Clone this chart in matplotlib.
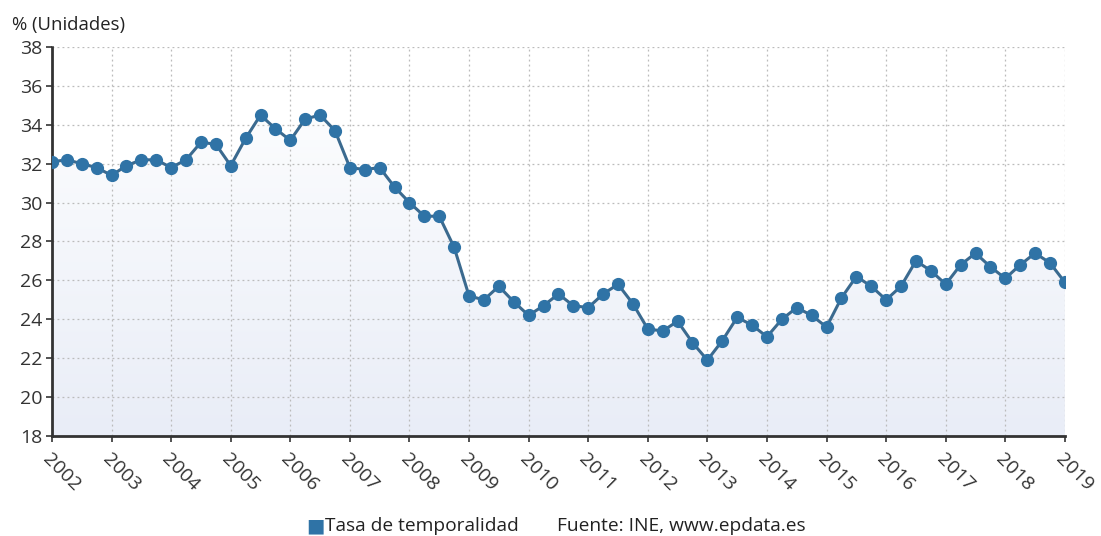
import numpy as np
import matplotlib
matplotlib.use("Agg")
import matplotlib.pyplot as plt
from matplotlib.patches import Polygon
from matplotlib.colors import LinearSegmentedColormap

plt.rcParams['font.family'] = ['Open Sans', 'DejaVu Sans']

years = list(range(2002, 2020))
year_labels = [str(y) for y in years]
series_name = "Tasa de temporalidad"
source_text = "Fuente: INE, www.epdata.es"
unit_label = "% (Unidades)"

# quarterly values 2002T1 .. 2019T1
values = [
    32.1, 32.2, 32.0, 31.8,
    31.4, 31.9, 32.2, 32.2,
    31.8, 32.2, 33.1, 33.0,
    31.9, 33.3, 34.5, 33.8,
    33.2, 34.3, 34.5, 33.7,
    31.8, 31.7, 31.8, 30.8,
    30.0, 29.3, 29.3, 27.7,
    25.2, 25.0, 25.7, 24.9,
    24.2, 24.7, 25.3, 24.7,
    24.6, 25.3, 25.8, 24.8,
    23.5, 23.4, 23.9, 22.8,
    21.9, 22.9, 24.1, 23.7,
    23.1, 24.0, 24.6, 24.2,
    23.6, 25.1, 26.2, 25.7,
    25.0, 25.7, 27.0, 26.5,
    25.8, 26.8, 27.4, 26.7,
    26.1, 26.8, 27.4, 26.9,
    25.9,
]
x = np.array([2002 + i / 4 for i in range(len(values))])
y = np.array(values)

fig = plt.figure(figsize=(11.01, 5.36), dpi=100)
ax = fig.add_axes([0.0472, 0.1866, 0.9200, 0.7257])

ymin, ymax = 18, 38
ax.set_xlim(2002, 2019)
ax.set_ylim(ymin, ymax)

# gradient fill under the line
grad = np.linspace(0, 1, 256).reshape(-1, 1)
cmap = LinearSegmentedColormap.from_list("g", ["#fcfdfe", "#e9edf7"])
im = ax.imshow(grad, extent=[2002, 2019, ymin, 35], aspect='auto', cmap=cmap,
               origin='upper', zorder=1)
poly = Polygon(np.column_stack([np.r_[x[0], x, x[-1]], np.r_[ymin, y, ymin]]),
               closed=True, facecolor='none', edgecolor='none')
ax.add_patch(poly)
im.set_clip_path(poly)

ax.plot(x, y, color='#3b6a8f', lw=2.2, zorder=3)
ax.plot(x, y, 'o', color='#2f73a6', ms=8.5, mec='#2f73a6', zorder=4)

ax.set_yticks(range(18, 39, 2))
ax.set_xticks(years)
ax.set_xticklabels(year_labels, rotation=-45, ha='left', va='top',
                   rotation_mode='anchor')
ax.tick_params(axis='both', labelsize=14, colors='#333333', length=4, width=1.2)
ax.tick_params(axis='x', pad=6)
ax.tick_params(axis='y', pad=3)
for lbl in ax.get_xticklabels() + ax.get_yticklabels():
    lbl.set_color('#333333')

ax.grid(True, linestyle=(0, (1.5, 2.5)), color='#bbbbbb', lw=0.9, zorder=0)
for s in ['top', 'right']:
    ax.spines[s].set_visible(False)
for s in ['left', 'bottom']:
    ax.spines[s].set_linestyle((0, (2, 1)))
    ax.spines[s].set_linewidth(2)
    ax.spines[s].set_color('#333333')

fig.text(0.011, 0.953, unit_label, fontsize=13.3, color='#222222', ha='left', va='center')

# legend
fig.text(0.278, 0.018, "\u25A0", fontsize=14, color='#2f73a6', ha='left', va='center')
fig.text(0.2955, 0.018, series_name, fontsize=13.8, color='#222222', ha='left', va='center')
fig.text(0.506, 0.018, source_text, fontsize=13.8, color='#222222', ha='left', va='center')

fig.savefig("out.png", dpi=100)
